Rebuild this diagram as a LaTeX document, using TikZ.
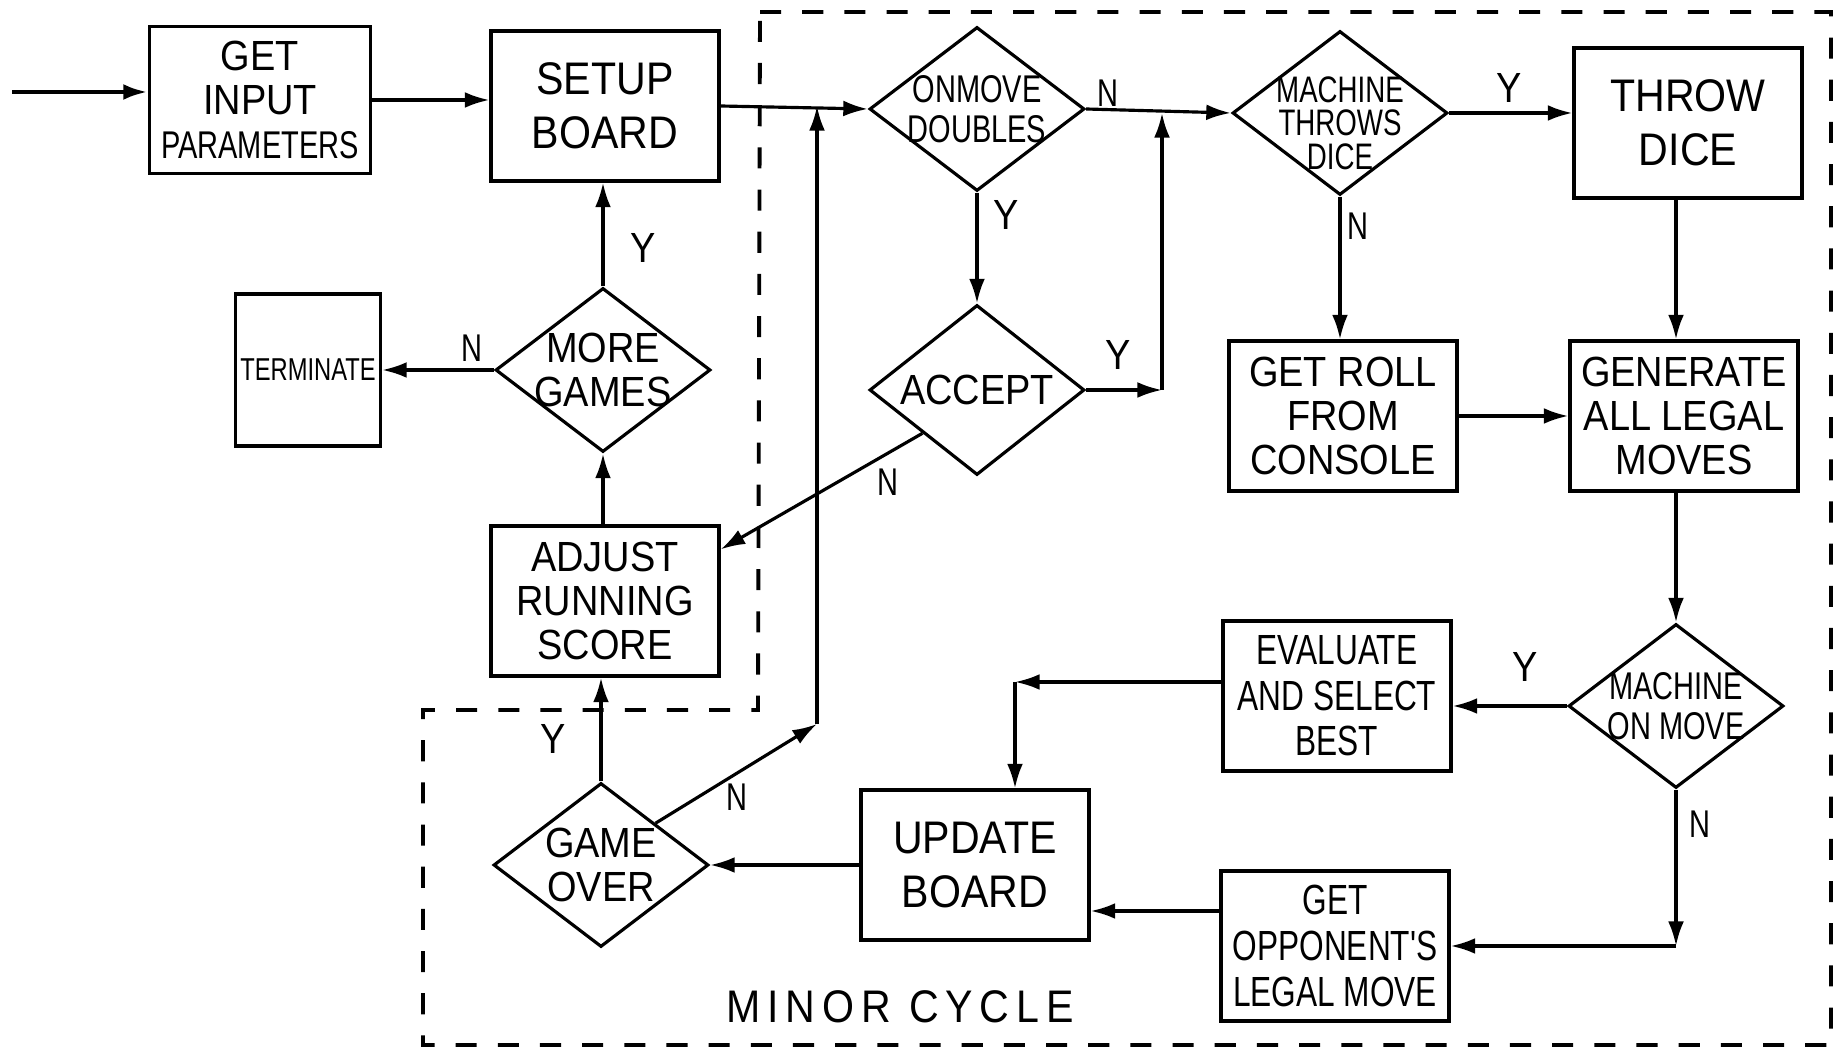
\documentclass[tikz,border=0pt]{standalone}
\usepackage{fontspec}
\newfontfamily\handfont[FakeStretch=0.9]{Liberation Sans}
\newfontfamily\handnarrow[FakeStretch=0.75]{Liberation Sans}
\newcommand\boxbig{\handfont\fontsize{13}{15.5}\selectfont}
\newcommand\boxmed{\handfont\fontsize{12}{12.5}\selectfont}
\newcommand\boxsmall{\handnarrow\fontsize{11}{11.5}\selectfont}
\newcommand\boxtight{\handnarrow\fontsize{12}{13}\selectfont}
\usetikzlibrary{arrows.meta, positioning, shapes.geometric}
\tikzset{
  >={Latex[length=7pt, width=4.5pt]},
  box/.style={draw, line width=0.9pt, align=center, inner sep=1pt,
    minimum width=22.8mm, minimum height=15mm, font=\boxmed},
  dia/.style={diamond, draw, line width=0.9pt, inner sep=0pt,
    minimum width=21.5mm, minimum height=16.4mm},
  dtext/.style={font=\boxsmall, align=center},
  flow/.style={->, line width=0.9pt},
  yn/.style={font=\boxmed},
  nn/.style={font=\boxsmall},
  bound/.style={line width=1.1pt, dash pattern=on 6pt off 6pt},
}

\begin{document}
\begin{tikzpicture}[x=0.1mm, y=-0.1mm]
  \useasboundingbox (0,0) rectangle (1845,1062);

  % game level
  \node[box, minimum width=22.1mm, minimum height=14.7mm] (input) at (260,100)
    {GET\\INPUT\\{\handnarrow\fontsize{11}{12.5}\selectfont PARAMETERS}};
  \node[box, font=\boxbig] (setup) at (605,106) {SETUP\\BOARD};
  \node[box, minimum width=14.5mm, minimum height=15.2mm,
    font=\handnarrow\fontsize{9}{10}\selectfont] (term) at (308,370) {TERMINATE};
  \node[dia, label={[dtext, font=\boxmed]center:MORE\\GAMES}] (more) at (603,370) {};
  \node[box] (adjust) at (605,601) {ADJUST\\RUNNING\\SCORE};

  % minor cycle
  \node[dia, label={[dtext]center:ONMOVE\\DOUBLES}] (onmove) at (977,109) {};
  \node[dia, minimum height=17mm, label={[dtext, font=\boxmed]center:ACCEPT}]
    (accept) at (977,390) {};
  \node[dia, label={[dtext, yshift=-1mm,
    font=\handnarrow\fontsize{10.5}{9.5}\selectfont]center:MACHINE\\THROWS\\DICE}]
    (throws) at (1340,113) {};
  \node[box, font=\boxbig] (dice) at (1688,123) {THROW\\DICE};
  \node[box] (roll) at (1343,416) {GET ROLL\\FROM\\CONSOLE};
  \node[box] (legal) at (1684,416) {GENERATE\\ALL LEGAL\\MOVES};
  \node[dia, label={[dtext]center:MACHINE\\ON MOVE}] (onmach) at (1676,706) {};
  \node[box, font=\boxtight] (best) at (1337,696) {EVALUATE\\AND SELECT\\BEST};
  \node[box, font=\boxtight] (opp) at (1335,946) {GET\\OPPONENT'S\\LEGAL MOVE};
  \node[box, font=\boxbig] (update) at (975,865) {UPDATE\\BOARD};
  \node[dia, label={[dtext, font=\boxmed]center:GAME\\OVER}] (over) at (601,865) {};

  \draw[bound] (760,12) -- (1831,12) -- (1831,1045) -- (423,1045) -- (423,710)
    -- (758,710) -- cycle;
  \node[font=\boxbig\addfontfeature{LetterSpace=15}] (minor) at (900,1007) {MINOR CYCLE};

  % connectors
  \coordinate (entry) at (12,92);
  \draw[flow, line width=1.3pt] (entry) -- (entry -| input.west);
  \draw[flow] (input.east) -- (input.east -| setup.west);
  \draw[flow] (setup.east) -- (onmove.west);
  \draw[flow] (more.north) -- (more.north |- setup.south);
  \draw[flow] (more.west) -- (more.west -| term.east);
  \draw[flow] (more.south |- adjust.north) -- (more.south);
  \draw[flow] (onmove.south) -- (accept.north);
  \draw[flow] (onmove.east) -- (throws.west);
  \coordinate (ajoin) at (1162,390);
  \draw[flow] (accept.east) -- (ajoin);
  \draw[flow] (ajoin) -- (ajoin |- throws.west);
  \draw[flow] (accept.south west) -- ([yshift=-2.5mm]adjust.north east);
  \draw[flow] (throws.east) -- (throws.east -| dice.west);
  \draw[flow] (throws.south) -- (throws.south |- roll.north);
  \coordinate (djoin) at ([xshift=-1.2mm]dice.south);
  \draw[flow] (djoin) -- (djoin |- legal.north);
  \draw[flow] (roll.east) -- (legal.west);
  \draw[flow] (onmach.north |- legal.south) -- (onmach.north);
  \draw[flow] (onmach.west) -- (onmach.west -| best.east);
  \coordinate (mjoin) at (onmach.south |- opp.east);
  \draw[flow] (onmach.south) -- (mjoin);
  \draw[flow] (mjoin) -- (opp.east);
  \coordinate (ejoin) at (1015,682);
  \draw[flow] (ejoin -| best.west) -- (ejoin);
  \draw[flow] (ejoin) -- (ejoin |- update.north);
  \coordinate (ojoin) at ([yshift=3.5mm]opp.west);
  \draw[flow] (ojoin) -- (ojoin -| update.east);
  \draw[flow] (update.west) -- (over.east);
  \draw[flow] (over.north) -- (over.north |- adjust.south);
  \coordinate (njoin) at (817,724);
  \draw[flow] (over.north east) -- (njoin);
  \draw[flow] (njoin) -- (njoin |- setup.east);

  % branch labels
  \node[yn] (ymore) at (643,248) {Y};
  \node[nn] (nmore) at (472,348) {N};
  \node[yn] (yonm) at (1006,215) {Y};
  \node[nn] (nonm) at (1108,93) {N};
  \node[yn] (yacc) at (1118,355) {Y};
  \node[nn] (nacc) at (888,482) {N};
  \node[yn] (ythr) at (1509,88) {Y};
  \node[nn] (nthr) at (1358,226) {N};
  \node[yn] (ymach) at (1525,667) {Y};
  \node[nn] (nmach) at (1700,824) {N};
  \node[yn] (yover) at (553,739) {Y};
  \node[nn] (nover) at (737,797) {N};
\end{tikzpicture}
\end{document}
